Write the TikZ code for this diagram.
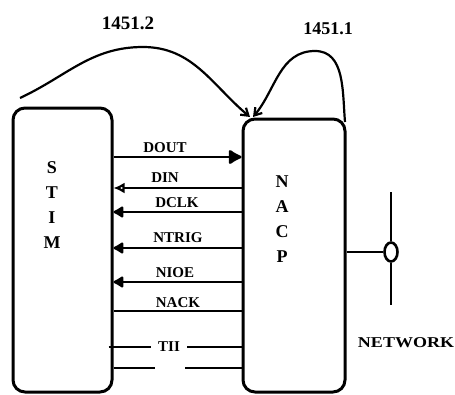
\documentclass[tikz,border=0pt]{standalone}
\usepackage{fontspec}
\setmainfont{Liberation Serif}
\usetikzlibrary{arrows.meta,shapes.geometric}

\begin{document}
\begin{tikzpicture}[x=1pt, y=-1pt,
  every node/.style={font=\bfseries\fontsize{15}{15}\selectfont, inner sep=1pt},
  unit/.style={draw, line width=3pt, rounded corners=12pt, inner sep=0pt},
  letters/.style={align=center, font=\bfseries\fontsize{18}{25}\selectfont},
  std/.style={font=\bfseries\fontsize{19}{19}\selectfont},
  sig/.style={line width=2.6pt},
  link/.style={line width=2.2pt, -{Straight Barb[length=7pt,width=9pt]}},
  tipout/.style={-{Latex[length=15pt,width=17pt,round]}},
  tipopen/.style={{Latex[open,length=11pt,width=11pt]}-},
  tipin/.style={{Latex[length=12pt,width=14pt,round]}-},
  tipnone/.style={}]
  \useasboundingbox (0,0) rectangle (455,394);

  % Define units
  \node[unit, minimum width=99, minimum height=284] (stim) at (62.5,250) {};
  \node[unit, minimum width=102, minimum height=273] (nacp) at (294,255.5) {};
  \node[letters] (stimtxt) at (52,205.5) {S\\T\\I\\M};
  \node[letters] (nacptxt) at (282,219.5) {N\\A\\C\\P};

  % Signal lines between the units
  \foreach \y/\lab/\lx/\ly/\tip in {157/DOUT/165/148/tipout, 188/DIN/165/178/tipopen,
      212/DCLK/177/203/tipin, 248/NTRIG/178/238/tipin, 282/NIOE/175/273/tipin,
      311/NACK/178/303/tipnone}{
    \node (\lab) at (\lx,\ly) {\lab};
    \draw[sig,\tip] (stim.east |- 0,\y) -- (nacp.west |- 0,\y);
  }

  % TII line and the last line (both broken)
  \node (TII) at (169,347) {TII};
  \draw[sig] ([xshift=-5pt]stim.east |- TII) -- ([xshift=-6pt]TII.west);
  \draw[sig] ([xshift=6pt]TII.east) -- (nacp.west |- TII);
  \coordinate (gapL) at (155,368);
  \coordinate (gapR) at (185,368);
  \draw[sig] (stim.east |- gapL) -- (gapL);
  \draw[sig] (gapR) -- (nacp.west |- gapR);

  % Network tap
  \node[draw, ellipse, line width=2.6pt, minimum width=13, minimum height=19, inner sep=0pt] (tap) at (391,252) {};
  \coordinate (netT) at (391,192);
  \coordinate (netB) at (391,305);
  \draw[sig] (netT) -- (tap.north);
  \draw[sig] (tap.south) -- (netB);
  \draw[sig] (nacp.east |- tap) -- (tap.west);
  \node[xscale=1.2] (net) at (406,343) {NETWORK};

  % 1451.x links
  \coordinate (l2start) at (20,98);
  \coordinate (l2end) at (250,117);
  \coordinate (l1start) at (345,122);
  \coordinate (l1end) at (253,117);
  \draw[link] (l2start) to[out=25,in=180] (143,47) to[out=0,in=140] (l2end);
  \draw[link] (l1start) to[out=95,in=0] (315,51) to[out=180,in=50] (l1end);
  \node[std] (std2) at (128,23) {1451.2};
  \node[std, font=\bfseries\fontsize{18}{18}\selectfont] (std1) at (328,29) {1451.1};
\end{tikzpicture}
\end{document}
